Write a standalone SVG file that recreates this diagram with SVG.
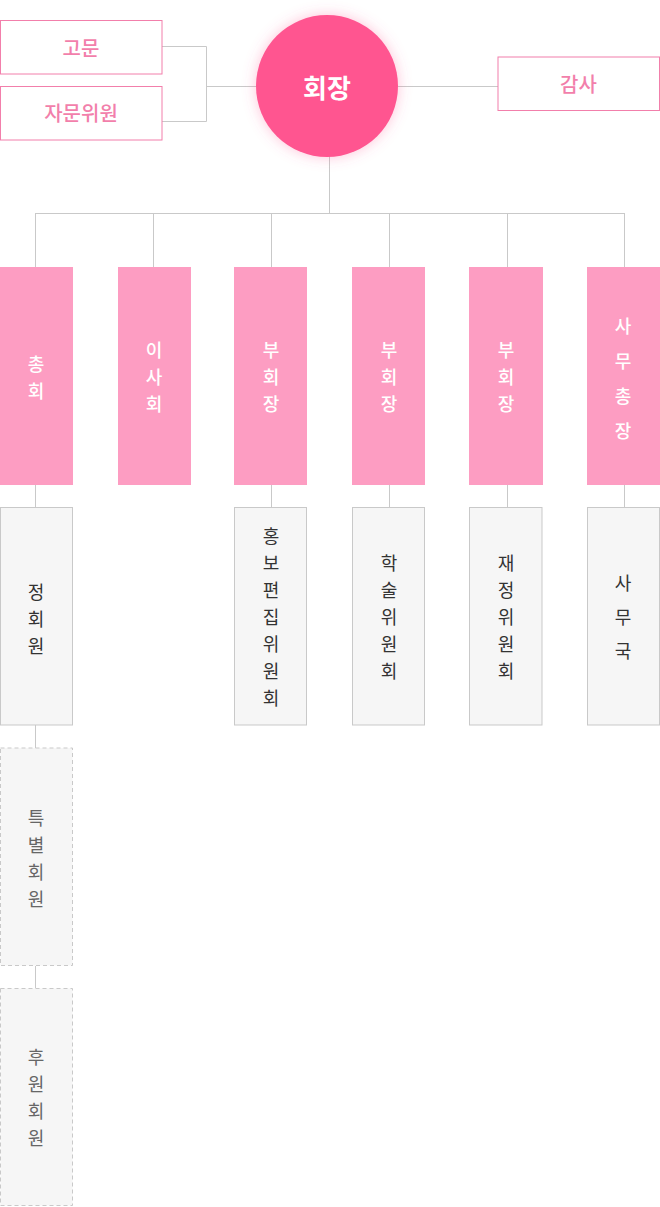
<svg xmlns="http://www.w3.org/2000/svg" width="660" height="1207" viewBox="0 0 660 1207">
<style>
text{font-family:"Noto Sans CJK KR","Noto Sans",sans-serif;text-anchor:middle;dominant-baseline:central}
.ob{fill:#fff;stroke:#f27fab;stroke-width:1}
.ot{fill:#f27fab;font-size:20px;font-weight:500}
.pk{fill:#fd9dc2}
.pt{fill:#fff;font-size:18px;font-weight:500}
.gb{fill:#f6f6f6;stroke:#c9c9c9;stroke-width:1}
.gt{fill:#333;font-size:18px}
.db{fill:#f6f6f6;stroke:#c9c9c9;stroke-width:1;stroke-dasharray:4 3}
.dt{fill:#666;font-size:18px}
.ln{fill:none;stroke:#c9c9c9;stroke-width:1}
</style>
<defs>
<filter id="glow" x="-30%" y="-30%" width="160%" height="160%">
<feDropShadow dx="0" dy="0" stdDeviation="7" flood-color="#ff5590" flood-opacity="0.35"/>
</filter>
</defs>
<rect width="660" height="1207" fill="#fff"/>
<g id="connectors" class="ln">
<path d="M162 46.5H206.5V121.5H162"/>
<path d="M206.5 86.5H256"/>
<path d="M398 86.5H498"/>
<path d="M329.5 156V213.5"/>
<path d="M35.5 213.5H624.5"/>
<path d="M35.5 213V267M153.5 213V267M271.5 213V267M389.5 213V267M507.5 213V267M624.5 213V267"/>
<path d="M35.5 485V507M271.5 485V507M389.5 485V507M507.5 485V507M624.5 485V507"/>
<path d="M35.5 725V748M35.5 966V988"/>
</g>
<g id="n-gomun"><rect class="ob" x="0.5" y="20.5" width="161.5" height="53.5"/><text class="ot" x="81" y="47">고문</text></g>
<g id="n-jamun"><rect class="ob" x="0.5" y="86.5" width="161.5" height="53.5"/><text class="ot" x="81" y="112">자문위원</text></g>
<g id="n-president"><circle cx="327" cy="86" r="71" fill="#ff5590" filter="url(#glow)"/><text x="327" y="86" fill="#fff" font-size="26" font-weight="bold">회장</text></g>
<g id="n-gamsa"><rect class="ob" x="498" y="57" width="161.5" height="53.5"/><text class="ot" x="578.5" y="83">감사</text></g>

<g id="n-chonghoe"><rect class="pk" x="0" y="267" width="73" height="218"/><text class="pt" x="36" y="362.5">총</text><text class="pt" x="36" y="389.5">회</text></g>
<g id="n-isahoe"><rect class="pk" x="118" y="267" width="73" height="218"/><text class="pt" x="154" y="349">이</text><text class="pt" x="154" y="376">사</text><text class="pt" x="154" y="403">회</text></g>
<g id="n-vp1"><rect class="pk" x="234" y="267" width="73" height="218"/><text class="pt" x="271" y="349">부</text><text class="pt" x="271" y="376">회</text><text class="pt" x="271" y="403">장</text></g>
<g id="n-vp2"><rect class="pk" x="352" y="267" width="73" height="218"/><text class="pt" x="389" y="349">부</text><text class="pt" x="389" y="376">회</text><text class="pt" x="389" y="403">장</text></g>
<g id="n-vp3"><rect class="pk" x="469" y="267" width="74" height="218"/><text class="pt" x="506" y="349">부</text><text class="pt" x="506" y="376">회</text><text class="pt" x="506" y="403">장</text></g>
<g id="n-samuchongjang"><rect class="pk" x="587" y="267" width="73" height="218"/><text class="pt" x="623" y="325">사</text><text class="pt" x="623" y="360">무</text><text class="pt" x="623" y="395">총</text><text class="pt" x="623" y="430">장</text></g>

<g id="n-jeonghoewon"><rect class="gb" x="0.5" y="507.5" width="72" height="217.5"/><text class="gt" x="36" y="591">정</text><text class="gt" x="36" y="618">회</text><text class="gt" x="36" y="645">원</text></g>
<g id="n-hongbo"><rect class="gb" x="234.5" y="507.5" width="72" height="217.5"/><text class="gt" x="271" y="535">홍</text><text class="gt" x="271" y="562">보</text><text class="gt" x="271" y="589">편</text><text class="gt" x="271" y="616">집</text><text class="gt" x="271" y="643">위</text><text class="gt" x="271" y="670">원</text><text class="gt" x="271" y="697">회</text></g>
<g id="n-haksul"><rect class="gb" x="352.5" y="507.5" width="72" height="217.5"/><text class="gt" x="389" y="562">학</text><text class="gt" x="389" y="589">술</text><text class="gt" x="389" y="616">위</text><text class="gt" x="389" y="643">원</text><text class="gt" x="389" y="670">회</text></g>
<g id="n-jaejeong"><rect class="gb" x="469.5" y="507.5" width="72.5" height="217.5"/><text class="gt" x="506" y="562">재</text><text class="gt" x="506" y="589">정</text><text class="gt" x="506" y="616">위</text><text class="gt" x="506" y="643">원</text><text class="gt" x="506" y="670">회</text></g>
<g id="n-samuguk"><rect class="gb" x="587.5" y="507.5" width="72" height="217.5"/><text class="gt" x="623" y="582">사</text><text class="gt" x="623" y="616">무</text><text class="gt" x="623" y="650">국</text></g>

<g id="n-teukbyeol"><rect class="db" x="0.5" y="748" width="72" height="217.5"/><text class="dt" x="36" y="817">특</text><text class="dt" x="36" y="844">별</text><text class="dt" x="36" y="871">회</text><text class="dt" x="36" y="898">원</text></g>
<g id="n-huwon"><rect class="db" x="0.5" y="988.5" width="72" height="217"/><text class="dt" x="36" y="1056">후</text><text class="dt" x="36" y="1083">원</text><text class="dt" x="36" y="1110">회</text><text class="dt" x="36" y="1137">원</text></g>
</svg>
